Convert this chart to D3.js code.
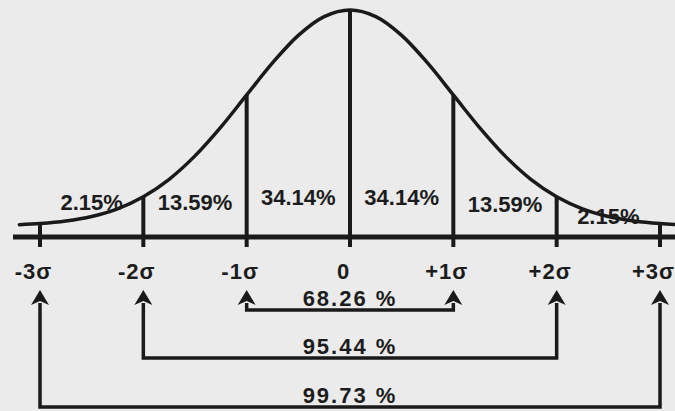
<!DOCTYPE html>
<html>
<head>
<meta charset="utf-8">
<script src="https://cdn.jsdelivr.net/npm/d3@7/dist/d3.min.js"></script>
<style>
  html, body { margin: 0; padding: 0; background: #ebebeb; }
  svg { display: block; }
  text { font-family: "Liberation Sans", Arial, sans-serif; font-weight: bold; fill: #1c1c1c; }
</style>
</head>
<body>
<svg id="chart" width="675" height="411"></svg>
<script>
// Sigma positions on the baseline and their labels
const sigmaTicks = [-3, -2, -1, 0, 1, 2, 3];
const tickLabels = ["-3σ", "-2σ", "-1σ", "0", "+1σ", "+2σ", "+3σ"];

// Bell curve outline: sigma position and curve height (density)
const curveSigma = [-3.2, -3, -2.75, -2.5, -2.25, -2, -1.75, -1.5, -1.25, -1, -0.75, -0.5, -0.25, 0,
                    0.25, 0.5, 0.75, 1, 1.25, 1.5, 1.75, 2, 2.25, 2.5, 2.75, 3, 3.2];
const curveDensity = [0.0024, 0.0044, 0.0091, 0.0175, 0.0317, 0.054, 0.0863, 0.1295, 0.1826, 0.242, 0.3011, 0.3521, 0.3867, 0.3989,
                      0.3867, 0.3521, 0.3011, 0.242, 0.1826, 0.1295, 0.0863, 0.054, 0.0317, 0.0175, 0.0091, 0.0044, 0.0024];

// Share of the area inside each one-sigma band
const bandMid = [-2.5, -1.5, -0.5, 0.5, 1.5, 2.5];
const bandShares = [2.15, 13.59, 34.14, 34.14, 13.59, 2.15];

// Cumulative share within ±k sigma
const spanSigma = [1, 2, 3];
const spanShares = [68.26, 95.44, 99.73];

const ink = "#1a1a1a";
const svg = d3.select("#chart");

const x = d3.scaleLinear().domain([-3, 3]).range([40, 660]);
const y = d3.scaleLinear().domain([0, 0.3989]).range([226, 10]);
const axisY = 237;

const densityAt = s => curveDensity[curveSigma.indexOf(s)];

// baseline
svg.append("line")
  .attr("x1", 13).attr("x2", 675)
  .attr("y1", axisY).attr("y2", axisY)
  .attr("stroke", ink).attr("stroke-width", 5);

// dividers from curve down through the baseline
svg.selectAll("line.divider")
  .data(sigmaTicks)
  .join("line")
  .attr("class", "divider")
  .attr("x1", d => x(d)).attr("x2", d => x(d))
  .attr("y1", d => y(densityAt(d)))
  .attr("y2", axisY + 10)
  .attr("stroke", ink).attr("stroke-width", 4);

// bell curve
const line = d3.line()
  .x((d, i) => x(curveSigma[i]))
  .y(d => y(d))
  .curve(d3.curveCatmullRom.alpha(0.5));

svg.append("path")
  .datum(curveDensity)
  .attr("d", line)
  .attr("fill", "none")
  .attr("stroke", ink)
  .attr("stroke-width", 3.5)
  .attr("stroke-linecap", "round");

// axis labels
const axis = d3.axisBottom(x)
  .tickValues(sigmaTicks)
  .tickFormat((d, i) => tickLabels[i])
  .tickSize(0)
  .tickPadding(0);

const gAxis = svg.append("g")
  .attr("transform", `translate(0,${axisY})`)
  .call(axis);
gAxis.select(".domain").remove();
gAxis.selectAll("text")
  .attr("y", 42).attr("dy", 0)
  .attr("dx", -7)
  .attr("font-family", "Liberation Sans, Arial, sans-serif")
  .attr("font-size", 22)
  .attr("font-weight", "bold")
  .attr("letter-spacing", 1)
  .attr("fill", ink);

// band share labels
const bandBaseline = [210, 210, 205, 205, 212, 224];
svg.selectAll("text.band")
  .data(bandShares)
  .join("text")
  .attr("class", "band")
  .attr("x", (d, i) => x(bandMid[i]))
  .attr("y", (d, i) => bandBaseline[i])
  .attr("text-anchor", "middle")
  .attr("font-size", 22)
  .attr("letter-spacing", 0)
  .text(d => d.toFixed(2) + "%");

// cumulative span arrows
const tipY = 290;
const spanLineY = [310, 358, 407];
const headW = 9, headH = 15;

spanSigma.forEach((k, i) => {
  const xl = x(-k), xr = x(k), ly = spanLineY[i];
  svg.append("path")
    .attr("d", `M${xl},${tipY + headH - 2} V${ly} H${xr} V${tipY + headH - 2}`)
    .attr("fill", "none")
    .attr("stroke", ink)
    .attr("stroke-width", 3.5)
    .attr("stroke-linejoin", "miter");
  [xl, xr].forEach(xa => {
    svg.append("path")
      .attr("d", `M${xa},${tipY} L${xa + headW},${tipY + headH} L${xa},${tipY + headH - 4} L${xa - headW},${tipY + headH} Z`)
      .attr("fill", ink);
  });
  svg.append("text")
    .attr("x", x(0))
    .attr("y", ly - 4)
    .attr("text-anchor", "middle")
    .attr("font-size", 22)
    .attr("letter-spacing", 2)
    .text(spanShares[i].toFixed(2) + " %");
});
</script>
</body>
</html>
